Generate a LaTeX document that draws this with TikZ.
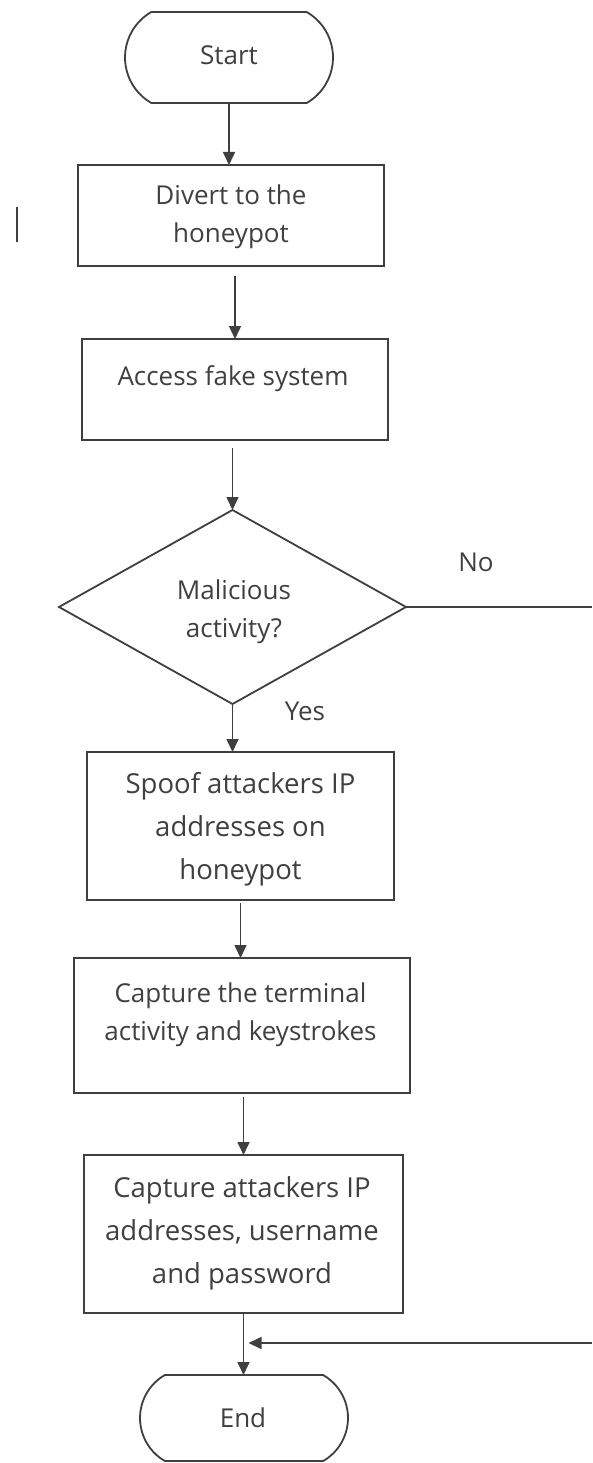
\documentclass[tikz,border=0pt]{standalone}
\usepackage{fontspec}
\setmainfont{Open Sans}
\usetikzlibrary{shapes.geometric,shapes.misc,arrows.meta}
\definecolor{ln}{HTML}{3F3F3F}
\definecolor{tx}{HTML}{404040}
\begin{document}
\begin{tikzpicture}[x=1pt,y=-1pt,
  every node/.style={inner sep=0pt, outer sep=0pt},
  boxn/.style={draw=ln, line width=1.8pt, rectangle},
  term/.style={draw=ln, line width=1.8pt, rounded rectangle, rounded rectangle arc length=120},
  dia/.style={draw=ln, line width=1.8pt, diamond},
  txts/.style={text=tx, align=center, font=\fontsize{26}{38}\selectfont},
  txtb/.style={text=tx, align=center, font=\fontsize{27.5}{43}\selectfont},
  arr/.style={draw=ln, line width=1.6pt, -{Triangle[length=13pt,width=12pt]}},
  con/.style={draw=ln, line width=1.6pt}]
\useasboundingbox (0,0) rectangle (592,1463);
\fill[white] (0,0) rectangle (592,1463);

% shapes
\node[term, minimum width=208pt, minimum height=91pt] (start) at (229,57.5) {};
\node[boxn, minimum width=306pt, minimum height=101pt] (divert) at (231,215.5) {};
\node[boxn, minimum width=306pt, minimum height=101pt] (access) at (235,389.5) {};
\node[dia, minimum width=347pt, minimum height=194pt] (dec) at (232.5,607) {};
\node[boxn, minimum width=307pt, minimum height=148pt] (spoof) at (240.5,826) {};
\node[boxn, minimum width=336pt, minimum height=135pt] (capterm) at (242,1025.5) {};
\node[boxn, minimum width=319pt, minimum height=158pt] (capatt) at (243.5,1234) {};
\node[term, minimum width=208pt, minimum height=86pt] (endn) at (244,1418) {};

% texts
\node[txts, anchor=base] (startt) at (229,65) {Start};
\node[txts] (divertt) at (231,216.4) {\strut Divert to the\\\strut honeypot};
\node[txts, anchor=base] (accesst) at (233,385) {Access fake system};
\node[txts] (dect) at (234,610.7) {\strut Malicious\\\strut activity?};
\node[txtb] (spooft) at (240.5,827.4) {\strut Spoof attackers IP\\\strut addresses on\\\strut honeypot};
\node[txts] (captermt) at (240.5,1013.4) {\strut Capture the terminal\\\strut activity and keystrokes};
\node[txtb] (capattt) at (242,1231.4) {\strut Capture attackers IP\\\strut addresses, username\\\strut and password};
\node[txts, anchor=base] (endt) at (243,1427) {End};
\node[txts, anchor=base] (yes) at (305,720) {Yes};
\node[txts, anchor=base] (no) at (476,571) {No};

% stray mark
\draw[ln, line width=1.2pt] (17,207) -- (17,242);

% connectors
\coordinate (edge) at (592,0);
\coordinate (loopin) at (592,1343);
\draw[arr] (start.south) -- (start.south |- divert.north);
\draw[arr] ([yshift=-10pt]divert.south -| access.north) -- (access.north);
\draw[arr] ([yshift=-8pt]access.south -| dec.north) -- (dec.north);
\draw[con] (dec.east) -- (dec.east -| edge);
\draw[arr] (dec.south) -- (dec.south |- spoof.north);
\draw[arr] ([yshift=-3pt]spoof.south) -- (spoof.south |- capterm.north);
\draw[arr] ([yshift=-4pt]capterm.south -| capatt.north) -- (capatt.north);
\draw[arr] (capatt.south) -- (capatt.south |- endn.north);
\draw[arr] (loopin) -- ([xshift=5pt]capatt.south |- loopin);
\end{tikzpicture}
\end{document}
